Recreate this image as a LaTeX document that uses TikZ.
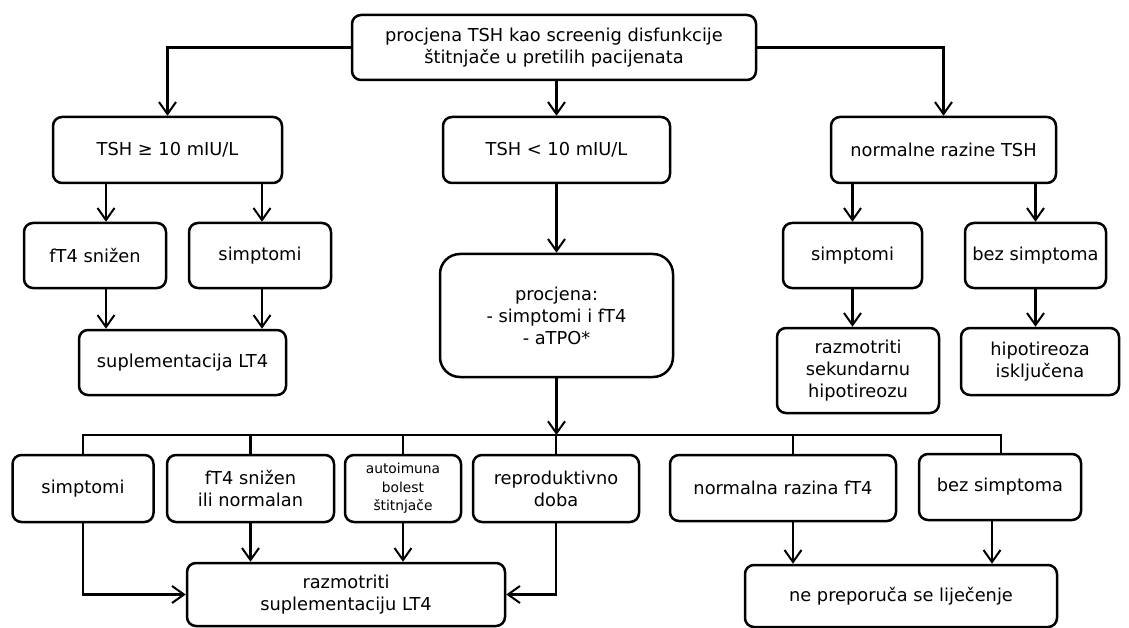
\documentclass[tikz,border=0pt]{standalone}
\usepackage{fontspec}
\setmainfont{DejaVu Sans}
\usetikzlibrary{arrows.meta,calc}
\begin{document}
\begin{tikzpicture}[x=1pt,y=-1pt,
  bx/.style={draw, line width=2.5pt, rounded corners=9pt, align=center, inner sep=0pt,
             font=\fontsize{17.8}{22}\selectfont},
  arr/.style={line width=2.4pt, -{Straight Barb[length=12pt,width=17pt,line width=2pt]}},
  ln/.style={line width=2.4pt}]
\useasboundingbox (0,0) rectangle (1129,628);
% row 0
\node[bx, minimum width=404pt, minimum height=65pt] (top) at (554,47.5)
  {procjena TSH kao screenig disfunkcije\\štitnjače u pretilih pacijenata};
% row 1
\node[bx, minimum width=229pt, minimum height=66pt] (tsh1) at (167.5,150) {TSH ≥ 10 mIU/L};
\node[bx, minimum width=227pt, minimum height=66pt] (tsh2) at (556.5,150) {TSH < 10 mIU/L};
\node[bx, minimum width=225pt, minimum height=66pt] (norm) at (943.5,150) {normalne razine TSH};
% row 2
\node[bx, minimum width=142pt, minimum height=65pt] (ft4a) at (95,255.5) {fT4 snižen};
\node[bx, minimum width=142pt, minimum height=65pt] (simA) at (260,255.5) {simptomi};
\node[bx, minimum width=139pt, minimum height=65pt] (simN) at (852.5,255.5) {simptomi};
\node[bx, minimum width=141pt, minimum height=65pt] (bezN) at (1035.5,255.5) {bez simptoma};
\node[bx, rounded corners=20pt, minimum width=233pt, minimum height=123pt] (proc) at (556.5,315.5)
  {procjena:\\- simptomi i fT4\\- aTPO*};
% row 3
\node[bx, minimum width=207pt, minimum height=65pt] (supl) at (182.5,362.5) {suplementacija LT4};
\node[bx, minimum width=162pt, minimum height=85pt] (rs) at (858,370.5) {razmotriti\\sekundarnu\\hipotireozu};
\node[bx, minimum width=158pt, minimum height=67pt] (hip) at (1040,361.5) {hipotireoza\\isključena};
% row 4
\node[bx, minimum width=141pt, minimum height=67pt] (b1) at (83,488.5) {simptomi};
\node[bx, minimum width=167pt, minimum height=67pt] (b2) at (250.5,488.5) {fT4 snižen\\ili normalan};
\node[bx, minimum width=116pt, minimum height=67pt, font=\fontsize{13.8}{18.5}\selectfont] (b3) at (403,488.5)
  {autoimuna\\bolest\\štitnjače};
\node[bx, minimum width=166pt, minimum height=67pt] (b4) at (556,488.5) {reproduktivno\\doba};
\node[bx, minimum width=226pt, minimum height=66pt] (b5) at (783,488) {normalna razina fT4};
\node[bx, minimum width=162pt, minimum height=66pt] (b6) at (1000,487) {bez simptoma};
% row 5
\node[bx, minimum width=318pt, minimum height=63pt] (razL) at (346,594.5) {razmotriti\\suplementaciju LT4};
\node[bx, minimum width=312pt, minimum height=62pt] (nep) at (901,596) {ne preporuča se liječenje};
% connectors
\draw[arr] (top.west) -| (tsh1.north);
\draw[arr] (top.south -| tsh2.north) -- (tsh2.north);
\draw[arr] (top.east) -| (norm.north);
\draw[arr] ([xshift=11pt]ft4a.north |- tsh1.south) -- ([xshift=11pt]ft4a.north);
\draw[arr] ([xshift=2pt]simA.north |- tsh1.south) -- ([xshift=2pt]simA.north);
\draw[arr] ([xshift=11pt]ft4a.south) -- ([xshift=11pt]ft4a.south |- supl.north);
\draw[arr] ([xshift=2pt]simA.south) -- ([xshift=2pt]simA.south |- supl.north);
\draw[arr] (tsh2.south) -- (proc.north);
\draw[arr] (norm.south -| simN.north) -- (simN.north);
\draw[arr] (norm.south -| bezN.north) -- (bezN.north);
\draw[arr] (simN.south) -- (simN.south |- rs.north);
\draw[arr] (bezN.south) -- (bezN.south |- hip.north);
\coordinate (bus) at (556,435);
\draw[arr] (proc.south) -- (proc.south |- bus);
\draw[ln] (b1.north) -- (b1.north |- bus) -- ([xshift=1pt]b6.north |- bus) -- ([xshift=1pt]b6.north);
\draw[ln] (b2.north |- bus) -- (b2.north);
\draw[ln] (b3.north |- bus) -- (b3.north);
\draw[ln] (b4.north |- bus) -- (b4.north);
\draw[ln] ([xshift=10pt]b5.north |- bus) -- ([xshift=10pt]b5.north);
\draw[arr] (b2.south) -- (b2.south |- razL.north);
\draw[arr] (b3.south) -- (b3.south |- razL.north);
\draw[arr] (b1.south) |- (razL.west);
\draw[arr] (b4.south) |- (razL.east);
\draw[arr] ([xshift=10pt]b5.south) -- ([xshift=10pt]b5.south |- nep.north);
\draw[arr] ([xshift=-8pt]b6.south) -- ([xshift=-8pt]b6.south |- nep.north);
\end{tikzpicture}
\end{document}
